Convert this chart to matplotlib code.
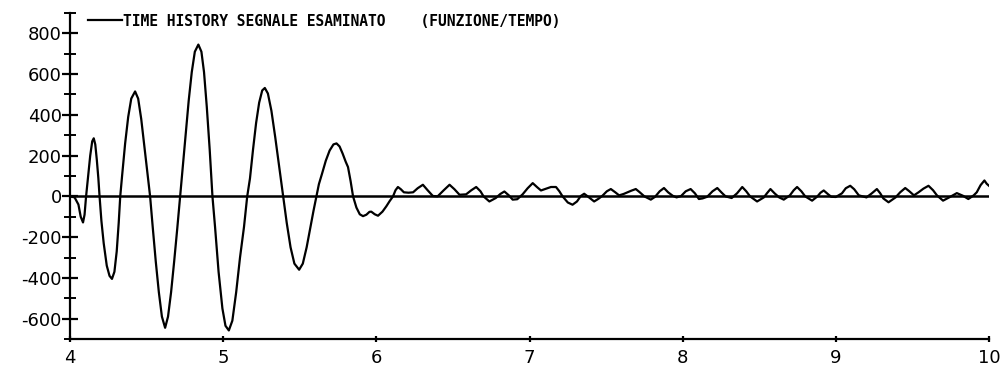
import matplotlib
matplotlib.use("Agg")
import matplotlib.pyplot as plt
from matplotlib.ticker import MultipleLocator

# time (s) and signal values
time = [
    4.000, 4.030, 4.055, 4.070, 4.085, 4.095, 4.105, 4.118, 4.132, 4.145,
    4.155, 4.165, 4.175, 4.185, 4.193, 4.205, 4.220, 4.240, 4.258, 4.274,
    4.290, 4.305, 4.318, 4.328, 4.340, 4.360, 4.380, 4.400, 4.425, 4.445,
    4.465, 4.485, 4.505, 4.523, 4.540, 4.560, 4.580, 4.600, 4.621, 4.640,
    4.660, 4.680, 4.700, 4.719, 4.735, 4.755, 4.775, 4.795, 4.815, 4.838,
    4.858, 4.875, 4.893, 4.912, 4.930, 4.947, 4.970, 4.995, 5.015, 5.037,
    5.060, 5.085, 5.110, 5.136, 5.157, 5.175, 5.195, 5.215, 5.235, 5.255,
    5.272, 5.292, 5.315, 5.340, 5.365, 5.392, 5.415, 5.440, 5.465, 5.496,
    5.520, 5.545, 5.570, 5.590, 5.609, 5.625, 5.645, 5.670, 5.695, 5.720,
    5.740, 5.760, 5.780, 5.800, 5.815, 5.832, 5.848, 5.870, 5.892, 5.913,
    5.935, 5.955, 5.967, 5.990, 6.011, 6.040, 6.065, 6.088, 6.109, 6.125,
    6.141, 6.160, 6.180, 6.210, 6.240, 6.270, 6.304, 6.335, 6.369, 6.400,
    6.440, 6.478, 6.510, 6.543, 6.586, 6.620, 6.652, 6.680, 6.700, 6.738,
    6.780, 6.810, 6.836, 6.865, 6.890, 6.920, 6.955, 6.988, 7.021, 7.050,
    7.075, 7.110, 7.140, 7.173, 7.195, 7.216, 7.250, 7.281, 7.310, 7.335,
    7.357, 7.380, 7.422, 7.450, 7.476, 7.505, 7.531, 7.560, 7.585, 7.615,
    7.665, 7.694, 7.720, 7.750, 7.792, 7.820, 7.850, 7.878, 7.905, 7.935,
    7.960, 7.990, 8.020, 8.052, 8.080, 8.106, 8.130, 8.160, 8.195, 8.226,
    8.255, 8.280, 8.320, 8.355, 8.389, 8.415, 8.440, 8.486, 8.530, 8.550,
    8.573, 8.600, 8.630, 8.660, 8.700, 8.725, 8.747, 8.775, 8.800, 8.845,
    8.880, 8.900, 8.921, 8.950, 8.970, 9.000, 9.040, 9.065, 9.094, 9.120,
    9.150, 9.200, 9.235, 9.268, 9.290, 9.310, 9.344, 9.390, 9.420, 9.453,
    9.480, 9.510, 9.540, 9.572, 9.605, 9.635, 9.660, 9.700, 9.740, 9.790,
    9.830, 9.865, 9.900, 9.920, 9.945, 9.970, 9.985, 10.000,
]
signal = [
    0, -5, -40, -100, -128, -90, 0, 95, 200, 270,
    285, 255, 180, 90, 0, -120, -230, -340, -390, -405,
    -370, -270, -130, 0, 100, 260, 390, 480, 515, 480,
    380, 250, 120, 0, -150, -320, -470, -590, -645, -590,
    -470, -320, -160, 0, 130, 300, 470, 610, 710, 745,
    710, 610, 440, 230, 0, -150, -370, -550, -635, -658,
    -610, -470, -300, -150, 0, 88, 230, 360, 460, 520,
    532, 505, 420, 290, 150, 0, -130, -250, -330, -360,
    -330, -250, -150, -70, 0, 60, 110, 175, 225, 255,
    260, 245, 210, 170, 144, 75, 0, -55, -88, -97,
    -90, -76, -75, -88, -95, -75, -49, -22, 0, 30,
    46, 35, 20, 18, 20, 40, 57, 30, 2, 0,
    30, 57, 35, 8, 10, 30, 46, 25, 0, -25,
    -8, 12, 24, 5, -16, -14, 10, 40, 65, 45,
    29, 38, 46, 46, 25, 0, -30, -41, -25, 2,
    13, 0, -25, -12, 3, 25, 36, 20, 5, 12,
    28, 36, 20, 0, -16, -2, 25, 41, 20, 3,
    -5, 2, 25, 36, 15, -13, -10, -2, 25, 41,
    18, 0, -8, 15, 46, 25, 0, -25, -5, 15,
    36, 15, -5, -16, 5, 30, 46, 25, 0, -21,
    0, 18, 29, 10, -2, -3, 15, 40, 52, 35,
    5, -5, 15, 36, 15, -10, -29, -5, 20, 41,
    25, 5, 20, 38, 52, 30, 5, -21, -5, 16,
    3, -13, 5, 20, 55, 78, 62, 52,
]

x_ticks = [4, 5, 6, 7, 8, 9, 10]
y_ticks = [-600, -400, -200, 0, 200, 400, 600, 800]
legend_label = "TIME HISTORY SEGNALE ESAMINATO    (FUNZIONE/TEMPO)"

plt.rcParams['axes.unicode_minus'] = False
plt.rcParams['font.family'] = ['DejaVu Sans']

fig = plt.figure(figsize=(10.05, 3.67), dpi=100)
ax = fig.add_axes([70 / 1005, 28 / 367, 919 / 1005, 326 / 367])

ax.axhline(0, color='black', lw=1.8, zorder=1)
ax.plot(time, signal, color='black', lw=1.6, label=legend_label, zorder=2,
        solid_joinstyle='round')

ax.set_xlim(4, 10)
ax.set_ylim(-700, 900)
ax.set_xticks(x_ticks)
ax.set_yticks(y_ticks)
ax.yaxis.set_minor_locator(MultipleLocator(100))

for side in ['top', 'right']:
    ax.spines[side].set_visible(False)
for side in ['left', 'bottom']:
    ax.spines[side].set_linewidth(1.6)

ax.tick_params(axis='y', which='major', direction='inout', length=11, width=1.6,
               labelsize=13, pad=0.5)
ax.tick_params(axis='y', which='minor', direction='inout', length=9, width=1.4)
ax.tick_params(axis='x', which='major', direction='inout', length=5, width=1.6,
               labelsize=13, pad=5)

ax.legend(loc='center left', bbox_to_anchor=(88 / 1005, 346 / 367),
          bbox_transform=fig.transFigure, frameon=False, handlelength=2.3,
          handletextpad=0.1, borderpad=0, borderaxespad=0,
          prop={'family': 'DejaVu Sans Mono', 'weight': 'bold', 'size': 10.5})

fig.savefig("out.png", dpi=100)
